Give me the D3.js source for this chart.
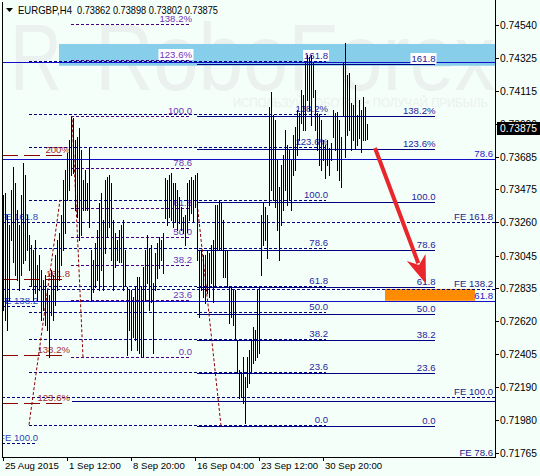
<!DOCTYPE html>
<html><head><meta charset="utf-8">
<script src="https://cdn.jsdelivr.net/npm/d3@7"></script>
<style>body{margin:0;background:#F5FFFA;}svg{display:block}</style>
</head><body>
<svg id="c" width="540" height="476"></svg>
<script>
// ---- data ----
const barHigh = [
0.73438,0.73451,0.73309,0.73244,0.73471,0.73620,0.73516,0.73341,0.73244,0.73438,
0.73646,0.73568,0.73309,0.73179,0.73114,0.73082,0.73147,0.72985,0.73050,0.72952,
0.72888,0.72920,0.72823,0.72790,0.72952,0.72920,0.73050,0.73147,0.73192,0.73309,
0.73536,0.73600,0.73711,0.73795,0.73944,0.73937,0.73795,0.73814,0.73873,0.73730,
0.73536,0.73600,0.73516,0.73743,0.73082,0.73017,0.73127,0.73212,0.73387,0.73451,
0.73276,0.73536,0.73555,0.73568,0.73516,0.73276,0.73192,0.73147,0.73212,0.73244,
0.73276,0.73082,0.72842,0.72823,0.72823,0.72777,0.72842,0.72907,0.72907,0.72842,
0.72972,0.73082,0.73179,0.73095,0.73114,0.72868,0.73063,0.73127,0.73166,0.73147,
0.73192,0.73549,0.73536,0.73568,0.73581,0.73516,0.73516,0.73471,0.73425,0.73361,
0.73296,0.73309,0.73516,0.73536,0.73555,0.73536,0.73568,0.73581,0.73082,0.73082,
0.73050,0.73050,0.73082,0.73063,0.73114,0.73147,0.73374,0.73374,0.73406,0.73387,
0.73276,0.73082,0.73082,0.72842,0.72842,0.72823,0.72823,0.72499,0.72304,0.72291,
0.72389,0.72259,0.72389,0.72434,0.72499,0.72583,0.72564,0.72823,0.72842,0.73309,
0.73387,0.73361,0.73309,0.74009,0.74106,0.73957,0.73924,0.73665,0.73490,0.73633,
0.73698,0.73860,0.73762,0.73730,0.73665,0.73827,0.73879,0.73989,0.73970,0.74119,
0.74086,0.74294,0.74346,0.74333,0.74346,0.74300,0.74119,0.73970,0.73957,0.73924,
0.73795,0.73762,0.73795,0.73743,0.73775,0.73989,0.73970,0.73976,0.73924,0.73814,
0.74294,0.74423,0.74216,0.74229,0.74035,0.74022,0.74151,0.73957,0.74054,0.73989,
0.74073,0.74009,0.73898];
const barLow = [
0.72693,0.72628,0.72564,0.72758,0.73147,0.73004,0.72920,0.72888,0.72823,0.72920,
0.72998,0.73017,0.73082,0.72952,0.72855,0.72758,0.72803,0.72758,0.72823,0.72628,
0.72693,0.72596,0.72564,0.72389,0.72661,0.72628,0.72726,0.72823,0.72888,0.72985,
0.73082,0.73192,0.73406,0.73471,0.73568,0.73581,0.73341,0.73296,0.73147,0.73179,
0.73341,0.73341,0.73341,0.73231,0.72758,0.72810,0.72842,0.72888,0.72823,0.72952,
0.72823,0.73063,0.73166,0.73231,0.73017,0.72823,0.72972,0.73017,0.73004,0.73004,
0.72823,0.72855,0.72402,0.72564,0.72434,0.72518,0.72499,0.72434,0.72415,0.72389,
0.72389,0.72758,0.72868,0.72693,0.72745,0.72415,0.72823,0.72901,0.72965,0.73017,
0.72933,0.73289,0.73244,0.73296,0.73276,0.73231,0.73263,0.73212,0.73257,0.73212,
0.73192,0.73114,0.73199,0.73276,0.73322,0.73263,0.73361,0.73017,0.72648,0.72823,
0.72777,0.72739,0.72803,0.72777,0.72868,0.72745,0.72842,0.73082,0.73082,0.73082,
0.72907,0.72907,0.72842,0.72609,0.72648,0.72596,0.72499,0.72291,0.72123,0.72129,
0.72091,0.71961,0.72194,0.72220,0.72285,0.72350,0.72369,0.72389,0.72415,0.72920,
0.73114,0.73147,0.73030,0.73374,0.73471,0.73406,0.73361,0.73212,0.73017,0.73244,
0.73341,0.73471,0.73374,0.73406,0.73341,0.73568,0.73600,0.73698,0.73795,0.73905,
0.73860,0.73860,0.74054,0.73989,0.73892,0.74073,0.73860,0.73730,0.73633,0.73600,
0.73665,0.73549,0.73633,0.73568,0.73665,0.73814,0.73730,0.73600,0.73536,0.73490,
0.73957,0.73685,0.73827,0.73860,0.73730,0.73795,0.73743,0.73762,0.73808,0.73717,
0.73795,0.73795,0.73802];
const lastQuote = {open:0.73862, high:0.73898, low:0.73802, close:0.73875};
const yTickValues = [0.74540,0.74325,0.74115,0.73900,0.73685,0.73475,0.73260,0.73045,0.72835,0.72620,0.72405,0.72190,0.71980,0.71765];
const xTickIndex = [0,32,64,96,128,160];
const xTickLabels = ["25 Aug 2015","1 Sep 12:00","8 Sep 20:00","16 Sep 04:00","23 Sep 12:00","30 Sep 20:00"];

// fibonacci retracements: price at 0 and 100, bar span
const retrLevels = [0,23.6,38.2,50,61.8,78.6,100,123.6,138.2,161.8];
const fiboPurple = {p0:0.72386, p100:0.73947, from:34, to:93.5, levels:[0,23.6,38.2,50,61.8,78.6,100,123.6,138.2], base:[40,34.5]};
const fiboDashed = {p0:0.71948, p100:0.73406, from:13, to:161.5, levels:retrLevels, base:[13,28.5]};
const fiboSolid  = {p0:0.71941, p100:0.73393, from:97, to:216, levels:retrLevels, base:[109,97]};
// fibo expansions: base price and 100% size
const feLeft  = {base:0.69514, unit:0.023172, levels:[100,138.2,161.8], to:17};
const feRight = {base:0.70286, unit:0.018398, levels:[78.6,100,138.2,161.8]};
// dark red fibo (left)
const fiboRed = {p0:0.69490, p100:0.71595, levels:[123.6,138.2,161.8,200], to:32.5};
// blue horizontal levels
const blueLevels = [{p:0.74297,label:""},{p:0.73672,label:"78.6"},{p:0.72752,label:"61.8"}];
const blueLevelPartial = {p:0.72104, from:34.5};
// zones
const skyZone = {from:28, top:0.74417, bottom:0.74276};
const orangeZone = {from:191, to:236, top:0.72829, bottom:0.72752};
const arrowPts = {from:[186,0.73743], to:[211.5,0.72862]};

// ---- drawing ----
const plot={left:2,right:495,bottom:457};
const svg=d3.select("#c");
const FONT="Liberation Sans, Arial, sans-serif";
const x=d3.scaleLinear().domain([0,246]).range([3,495]);
const y=d3.scaleLinear().domain([0.71765,0.74540]).range([453,25]);
const xs=v=> v==="L"?plot.left:(v==="R"?plot.right:x(v));
const yc=p=>Math.round(y(p))+0.5;

svg.append("rect").attr("width",540).attr("height",476).attr("fill","#F5FFFA");
svg.append("defs").append("clipPath").attr("id","pc").append("rect")
  .attr("x",plot.left).attr("y",0).attr("width",plot.right-plot.left).attr("height",plot.bottom);

// watermark
const wm=svg.append("g").attr("fill","#EAF1EE").attr("font-family",FONT);
wm.append("text").attr("x",10).attr("y",90).attr("font-size",95).attr("textLength",52).attr("lengthAdjust","spacingAndGlyphs").text("R");
wm.append("text").attr("x",95).attr("y",90).attr("font-size",95).attr("textLength",400).attr("lengthAdjust","spacingAndGlyphs").text("RoboForex");
wm.append("text").attr("x",233).attr("y",107).attr("font-size",12).attr("textLength",255).attr("lengthAdjust","spacingAndGlyphs").text("ИСПОЛЬЗУЙ РОБОТОВ • ПОЛУЧАЙ ПРИБЫЛЬ");

const g=svg.append("g").attr("clip-path","url(#pc)");

// zones
g.append("rect").attr("x",xs(skyZone.from)).attr("y",y(skyZone.top))
 .attr("width",xs("R")-xs(skyZone.from)).attr("height",y(skyZone.bottom)-y(skyZone.top)).attr("fill","#87CEEB");
g.append("rect").attr("x",xs(orangeZone.from)).attr("y",y(orangeZone.top))
 .attr("width",xs(orangeZone.to)-xs(orangeZone.from)).attr("height",y(orangeZone.bottom)-y(orangeZone.top)).attr("fill","#FF8C00");

function hline(p,a,b,color,dash){
  const yy=yc(p);
  g.append("line").attr("x1",xs(a)).attr("x2",xs(b)).attr("y1",yy).attr("y2",yy)
   .attr("stroke",color).attr("stroke-width",1).attr("stroke-dasharray",dash||null);
}
const labels=[];
function label(txt,p,xr,color,bg){ labels.push({txt,p,xr,color,bg}); }
const fmtRetr=l=> l===0?"0.0":(l===123.6||l===138.2||l===200)?(l.toFixed(l===200?0:1)+"%"):l.toFixed(1);

// blue levels
blueLevels.forEach(d=>{ hline(d.p,"L","R","#1010C8"); if(d.label) label(d.label,d.p,493,"#2020D0"); });
hline(blueLevelPartial.p,blueLevelPartial.from,"R","#000080");

// red fibo
fiboRed.levels.forEach(l=>{ const p=fiboRed.p0+(fiboRed.p100-fiboRed.p0)*l/100;
  hline(p,"L",fiboRed.to,"#8B0000","16,6"); label(fmtRetr(l),p,70,"#A52A2A"); });

// FE right
feRight.levels.forEach(l=>{ const p=feRight.base+feRight.unit*l/100;
  hline(p,"L","R","#000080","3,2"); label("FE "+l.toFixed(1),p,493,"#1B1B8F"); });
// FE left
feLeft.levels.forEach(l=>{ const p=feLeft.base+feLeft.unit*l/100;
  hline(p,"L",feLeft.to,"#000080","3,2"); label("FE "+l.toFixed(1),p,38,"#2B45B5"); });

// retracements
function retr(o,color,dash,labColor){
  o.levels.forEach(l=>{ const p=o.p0+(o.p100-o.p0)*l/100;
    hline(p,o.from,o.to,color,dash);
    const inSky = p<=skyZone.top && p>=skyZone.bottom;
    label(fmtRetr(l),p,xs(o.to)+(dash?2:0.5),labColor,inSky);
  });
  const [a,b]=o.base;
  g.append("line").attr("x1",x(a)).attr("y1",y(o.p0)).attr("x2",x(b)).attr("y2",y(o.p100))
   .attr("stroke","#8B0000").attr("stroke-width",1).attr("stroke-dasharray","3,2");
}
retr(fiboDashed,"#000080","3,2","#2626A0");
retr(fiboPurple,"#4B0082","3,2","#7034B8");
retr(fiboSolid,"#000080",null,"#22229A");

// labels
const lg=g.append("g").attr("font-family",FONT).attr("font-size",9.6);
labels.forEach(d=>{
  const yy=yc(d.p)-2.5;
  if(d.bg){
    const tmp=lg.append("text").attr("x",d.xr).attr("y",yy).attr("text-anchor","end").text(d.txt);
    const bb=tmp.node().getBBox(); tmp.remove();
    lg.append("rect").attr("x",bb.x-1).attr("y",bb.y).attr("width",bb.width+2).attr("height",bb.height).attr("fill","#FFFFFF");
  }
  lg.append("text").attr("x",d.xr).attr("y",yy).attr("text-anchor","end").attr("fill",d.color).text(d.txt);
});

// bars
const n=barHigh.length;
g.append("g").selectAll("line").data(d3.range(n)).join("line")
 .attr("x1",i=>x(i)+0.5).attr("x2",i=>x(i)+0.5)
 .attr("y1",i=>Math.round(y(barHigh[i]))).attr("y2",i=>Math.round(y(barLow[i]))+1)
 .attr("stroke","#000").attr("stroke-width",1);

// arrow
{
  const x1=x(arrowPts.from[0]),y1=y(arrowPts.from[1]),x2=x(arrowPts.to[0]),y2=y(arrowPts.to[1]);
  const dx=x2-x1,dy=y2-y1,len=Math.hypot(dx,dy),ux=dx/len,uy=dy/len,px=-uy,py=ux;
  const hl=28,hw=10;
  const bx=x2-ux*hl,by=y2-uy*hl;
  g.append("line").attr("x1",x1).attr("y1",y1).attr("x2",x2-ux*(hl-6)).attr("y2",y2-uy*(hl-6))
   .attr("stroke","#E8262B").attr("stroke-width",4);
  g.append("path").attr("fill","#E8262B")
   .attr("d",`M${x2},${y2}L${bx+px*hw},${by+py*hw}L${x2-ux*(hl-8)},${y2-uy*(hl-8)}L${bx-px*hw},${by-py*hw}Z`);
}

// frame
const fr=svg.append("g").attr("stroke","#000").attr("stroke-width",1);
fr.append("line").attr("x1",plot.left+0.5).attr("x2",plot.left+0.5).attr("y1",2).attr("y2",plot.bottom+0.5);
fr.append("line").attr("x1",plot.right+0.5).attr("x2",plot.right+0.5).attr("y1",0).attr("y2",plot.bottom+0.5);
fr.append("line").attr("x1",plot.left).attr("x2",plot.right+1).attr("y1",plot.bottom+0.5).attr("y2",plot.bottom+0.5);

// y axis
const ya=svg.append("g").attr("font-family",FONT).attr("font-size",10.5);
yTickValues.forEach(v=>{
  const yy=Math.round(y(v))+0.5;
  ya.append("line").attr("x1",plot.right+1).attr("x2",plot.right+4).attr("y1",yy).attr("y2",yy).attr("stroke","#000");
  ya.append("text").attr("x",500).attr("y",yy+3.8).attr("fill","#000")
    .attr("textLength",37).attr("lengthAdjust","spacingAndGlyphs").text(v.toFixed(5));
});
{
  const yy=Math.round(y(lastQuote.close))+0.5;
  ya.append("rect").attr("x",497).attr("y",yy-6.5).attr("width",43).attr("height",13).attr("fill","#000");
  ya.append("text").attr("x",500).attr("y",yy+3.8).attr("fill","#fff")
    .attr("textLength",37).attr("lengthAdjust","spacingAndGlyphs").text(lastQuote.close.toFixed(5));
}
// x axis
const xa=svg.append("g").attr("font-family",FONT).attr("font-size",9.6);
xTickIndex.forEach((i,k)=>{
  const xx=Math.round(x(i))+0.5;
  xa.append("line").attr("x1",xx).attr("x2",xx).attr("y1",plot.bottom).attr("y2",plot.bottom+4).attr("stroke","#000");
  xa.append("text").attr("x",xx+1.5).attr("y",469).attr("fill","#000").text(xTickLabels[k]);
});

// title
svg.append("path").attr("d","M6,8L13,8L9.5,12Z").attr("fill","#000");
const tt=svg.append("g").attr("font-family",FONT).attr("font-size",10.3).attr("fill","#000");
tt.append("text").attr("x",18).attr("y",14).attr("textLength",54).attr("lengthAdjust","spacingAndGlyphs").text("EURGBP,H4");
tt.append("text").attr("x",77).attr("y",14).attr("textLength",141).attr("lengthAdjust","spacingAndGlyphs")
  .text([lastQuote.open,lastQuote.high,lastQuote.low,lastQuote.close].map(v=>v.toFixed(5)).join(" "));
</script>
</body></html>
